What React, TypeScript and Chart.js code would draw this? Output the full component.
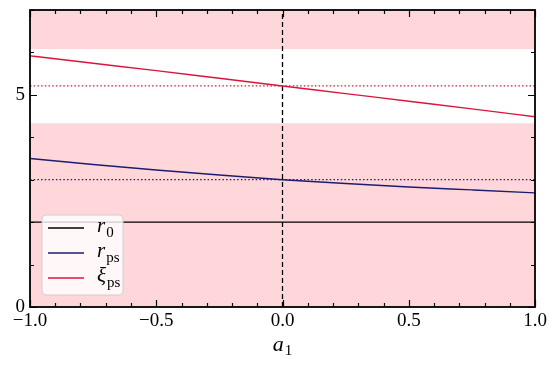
import { useEffect, useRef } from 'react';
import { Chart, registerables } from 'chart.js';
Chart.register(...registerables);

const xValues = [-1, -0.75, -0.5, -0.25, 0, 0.25, 0.5, 0.75, 1];
const r0Values = [2, 2, 2, 2, 2, 2, 2, 2, 2];
const rpsValues = [3.5, 3.36, 3.23, 3.11, 3.0, 2.91, 2.83, 2.76, 2.69];
const xiValues = [5.92, 5.745, 5.57, 5.39, 5.21, 5.03, 4.85, 4.67, 4.485];
const rpsRef = 3.0;
const xiRef = 5.21;
const vlineX = 0;
const bandLows = [0, 6.08];
const bandHighs = [4.33, 7];
const xMajorLabels = ['−1.0', '−0.5', '0.0', '0.5', '1.0'];
const yMajorLabels = ['0', '5'];

const BLUE = '#1c1c72';
const RED = '#dc143c';
const PINK = '#ffd7da';
const SERIF = '"Liberation Serif", "DejaVu Serif", serif';

const isMult = (v: number, step: number) => Math.abs(v / step - Math.round(v / step)) < 1e-6;

const pts = (ys: number[]) => xValues.map((x, i) => ({ x, y: ys[i] }));

const bandsPlugin = {
  id: 'bands',
  beforeDatasetsDraw(chart: any) {
    const { ctx, chartArea: a, scales } = chart;
    ctx.save();
    ctx.fillStyle = PINK;
    bandLows.forEach((lo, i) => {
      const y1 = scales.y.getPixelForValue(bandHighs[i]);
      const y2 = scales.y.getPixelForValue(lo);
      ctx.fillRect(a.left, y1, a.right - a.left, y2 - y1);
    });
    ctx.restore();
  },
};

const framePlugin = {
  id: 'frame',
  afterDatasetsDraw(chart: any) {
    const { ctx, chartArea: a, scales } = chart;
    ctx.save();
    ctx.strokeStyle = '#000';
    ctx.lineWidth = 1.2;
    scales.x.ticks.forEach((t: any) => {
      const px = Math.round(scales.x.getPixelForValue(t.value)) + 0.5;
      const len = isMult(t.value, 0.5) ? 7 : 4;
      ctx.beginPath();
      ctx.moveTo(px, a.bottom); ctx.lineTo(px, a.bottom - len);
      ctx.moveTo(px, a.top); ctx.lineTo(px, a.top + len);
      ctx.stroke();
    });
    scales.y.ticks.forEach((t: any) => {
      const py = Math.round(scales.y.getPixelForValue(t.value)) + 0.5;
      const len = isMult(t.value, 5) ? 7 : 4;
      ctx.beginPath();
      ctx.moveTo(a.left, py); ctx.lineTo(a.left + len, py);
      ctx.moveTo(a.right, py); ctx.lineTo(a.right - len, py);
      ctx.stroke();
    });
    ctx.lineWidth = 1.8;
    ctx.strokeRect(a.left, a.top, a.right - a.left, a.bottom - a.top);
    ctx.restore();
  },
};

const legendItems = [
  { sym: 'r', sub: '0', color: '#000' },
  { sym: 'r', sub: 'ps', color: BLUE },
  { sym: 'ξ', sub: 'ps', color: RED },
];

const legendPlugin = {
  id: 'customLegend',
  afterDraw(chart: any) {
    const { ctx, chartArea: a } = chart;
    ctx.save();
    const x0 = a.left + 12, y0 = a.top + 205, w = 81, h = 80, r = 4;
    ctx.beginPath();
    ctx.moveTo(x0 + r, y0);
    ctx.arcTo(x0 + w, y0, x0 + w, y0 + h, r);
    ctx.arcTo(x0 + w, y0 + h, x0, y0 + h, r);
    ctx.arcTo(x0, y0 + h, x0, y0, r);
    ctx.arcTo(x0, y0, x0 + w, y0, r);
    ctx.closePath();
    ctx.fillStyle = 'rgba(255,255,255,0.8)';
    ctx.fill();
    ctx.strokeStyle = '#d0d0d0';
    ctx.lineWidth = 1;
    ctx.stroke();
    legendItems.forEach((it, i) => {
      const cy = y0 + 13 + i * 25;
      ctx.strokeStyle = it.color;
      ctx.lineWidth = 1.5;
      ctx.beginPath();
      ctx.moveTo(x0 + 6, cy); ctx.lineTo(x0 + 42, cy);
      ctx.stroke();
      ctx.fillStyle = '#000';
      ctx.textBaseline = 'alphabetic';
      ctx.font = `italic 21px ${SERIF}`;
      ctx.fillText(it.sym, x0 + 55, cy + 4);
      const sw = ctx.measureText(it.sym).width;
      ctx.font = `15px ${SERIF}`;
      ctx.fillText(it.sub, x0 + 55 + sw + 1, cy + 9);
    });
    // x-axis title
    const cx = (a.left + a.right) / 2;
    ctx.font = `italic 22px ${SERIF}`;
    const aw = ctx.measureText('a').width;
    ctx.font = `15px ${SERIF}`;
    const ow = ctx.measureText('1').width;
    const sx = cx - (aw + ow + 1) / 2;
    ctx.font = `italic 22px ${SERIF}`;
    ctx.fillText('a', sx, 351);
    ctx.font = `15px ${SERIF}`;
    ctx.fillText('1', sx + aw + 1, 355);
    ctx.restore();
  },
};

export default function App() {
  const ref = useRef<HTMLCanvasElement | null>(null);
  useEffect(() => {
    document.body.style.margin = '0';
    const chart = new Chart(ref.current!, {
      type: 'line',
      data: {
        datasets: [
          { label: 'r0', data: pts(r0Values), borderColor: '#000', borderWidth: 1.4, pointRadius: 0 },
          { label: 'rps', data: pts(rpsValues), borderColor: BLUE, borderWidth: 1.4, pointRadius: 0, cubicInterpolationMode: 'monotone' },
          { label: 'xips', data: pts(xiValues), borderColor: RED, borderWidth: 1.4, pointRadius: 0, cubicInterpolationMode: 'monotone' },
          { label: 'rpsRef', data: [{ x: -1, y: rpsRef }, { x: 1, y: rpsRef }], borderColor: BLUE, borderWidth: 1.3, borderDash: [1.5, 2.2], pointRadius: 0 },
          { label: 'xiRef', data: [{ x: -1, y: xiRef }, { x: 1, y: xiRef }], borderColor: RED, borderWidth: 1.3, borderDash: [1.5, 2.2], pointRadius: 0 },
          { label: 'vline', data: [{ x: vlineX, y: 0 }, { x: vlineX, y: 7 }], borderColor: '#000', borderWidth: 1.3, borderDash: [5, 3], pointRadius: 0 },
        ] as any,
      },
      options: {
        animation: false,
        responsive: false,
        layout: { padding: { left: 0, top: 10, right: 22, bottom: 0 } },
        plugins: { legend: { display: false }, tooltip: { enabled: false } },
        scales: {
          x: {
            type: 'linear', min: -1, max: 1,
            grid: { display: false, drawTicks: false }, border: { display: false },
            afterFit: (s: any) => { s.height = 58; s.paddingLeft = 0; s.paddingRight = 0; },
            ticks: {
              stepSize: 0.1, autoSkip: false, maxRotation: 0, padding: 3,
              color: '#000', font: { family: SERIF, size: 19 },
              callback: (v: any) => {
                const n = Number(v);
                if (!isMult(n, 0.5)) return '';
                return xMajorLabels[Math.round((n + 1) * 2)];
              },
            },
          },
          y: {
            type: 'linear', min: 0, max: 7,
            grid: { display: false, drawTicks: false }, border: { display: false },
            afterFit: (s: any) => { s.width = 30; s.paddingTop = 0; s.paddingBottom = 0; },
            ticks: {
              stepSize: 1, autoSkip: false, padding: 5,
              color: '#000', font: { family: SERIF, size: 19 },
              callback: (v: any) => {
                const n = Number(v);
                if (!isMult(n, 5)) return '';
                return yMajorLabels[Math.round(n / 5)];
              },
            },
          },
        },
      },
      plugins: [bandsPlugin, framePlugin, legendPlugin],
    });
    return () => chart.destroy();
  }, []);
  return (
    <div style={{ width: 557, height: 365 }}>
      <canvas ref={ref} width={557} height={365} style={{ width: 557, height: 365 }} />
    </div>
  );
}
